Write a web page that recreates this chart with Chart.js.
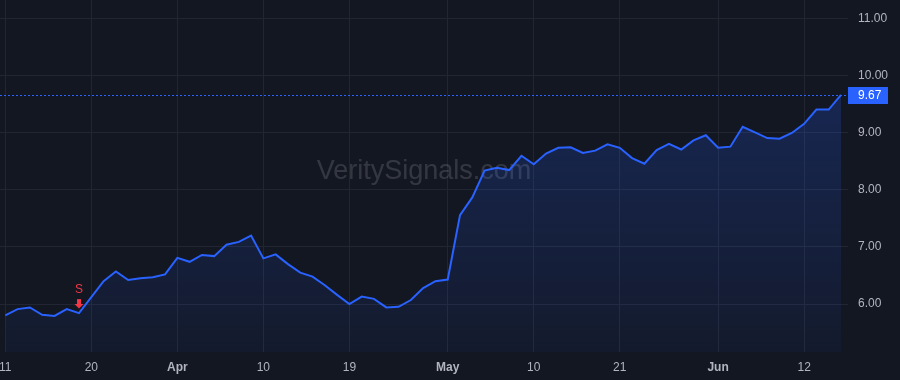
<!DOCTYPE html>
<html>
<head>
<meta charset="utf-8">
<script src="https://cdn.jsdelivr.net/npm/chart.js@4"></script>
<style>
  html, body { margin: 0; padding: 0; background: #131722; }
  #wrap { width: 900px; height: 380px; position: relative; }
</style>
</head>
<body>
<div id="wrap"><canvas id="priceChart" width="900" height="380"></canvas></div>
<script>
// trading days, Mar 11 - Jun 17 2024
const dates = [
  '2024-03-11','2024-03-12','2024-03-13','2024-03-14','2024-03-15','2024-03-18','2024-03-19','2024-03-20',
  '2024-03-21','2024-03-22','2024-03-25','2024-03-26','2024-03-27','2024-03-28',
  '2024-04-01','2024-04-02','2024-04-03','2024-04-04','2024-04-05','2024-04-08','2024-04-09','2024-04-10',
  '2024-04-11','2024-04-12','2024-04-15','2024-04-16','2024-04-17','2024-04-18','2024-04-19','2024-04-22',
  '2024-04-23','2024-04-24','2024-04-25','2024-04-26','2024-04-29','2024-04-30',
  '2024-05-01','2024-05-02','2024-05-03','2024-05-06','2024-05-07','2024-05-08','2024-05-09','2024-05-10',
  '2024-05-13','2024-05-14','2024-05-15','2024-05-16','2024-05-17','2024-05-20','2024-05-21','2024-05-22',
  '2024-05-23','2024-05-24','2024-05-28','2024-05-29','2024-05-30','2024-05-31',
  '2024-06-03','2024-06-04','2024-06-05','2024-06-06','2024-06-07','2024-06-10','2024-06-11','2024-06-12',
  '2024-06-13','2024-06-14','2024-06-17'
];

const closes = [
  5.80, 5.91, 5.94, 5.81, 5.79, 5.91, 5.84, 6.12, 6.40, 6.57, 6.42, 6.45, 6.47, 6.52,
  6.81, 6.74, 6.86, 6.84, 7.04, 7.09, 7.20, 6.80, 6.87, 6.70, 6.55, 6.48, 6.33, 6.16,
  6.00, 6.13, 6.09, 5.94, 5.95, 6.07, 6.28, 6.40,
  6.43, 7.56, 7.87, 8.34, 8.39, 8.35, 8.60, 8.45, 8.64, 8.74, 8.75, 8.65, 8.69, 8.80,
  8.74, 8.56, 8.46, 8.70, 8.81, 8.71, 8.87, 8.96,
  8.74, 8.76, 9.11, 9.01, 8.91, 8.90, 9.00, 9.16, 9.41, 9.41, 9.67
];

const tickDates = ['2024-03-11','2024-03-20','2024-04-01','2024-04-10','2024-04-19','2024-05-01','2024-05-10','2024-05-21','2024-06-03','2024-06-12'];
const tickLabels = ['11', '20', 'Apr', '10', '19', 'May', '10', '21', 'Jun', '12'];
const monthLabels = ['Apr', 'May', 'Jun'];

const yTicks = [6, 7, 8, 9, 10, 11];

const signalDates = ['2024-03-19'];
const signalText = 'S';

const watermark = 'VeritySignals.com';

const BLUE = '#2962ff';
const GRID = '#222633';
const TEXT = '#b2b5be';
const FONT = "'Liberation Sans', Arial, sans-serif";

const points = closes.map((v, i) => ({ x: i, y: v }));
const tickIdx = tickDates.map(d => dates.indexOf(d));
const lastValue = closes[closes.length - 1];

function noPadding(scale) {
  scale.paddingTop = 0;
  scale.paddingBottom = 0;
  scale.paddingLeft = 0;
  scale.paddingRight = 0;
}

// watermark + signal arrow + last price line
const overlay = {
  id: 'overlay',
  beforeDatasetsDraw(chart) {
    const { ctx, chartArea } = chart;
    ctx.save();
    ctx.font = '27px ' + FONT;
    ctx.fillStyle = 'rgba(255,255,255,0.14)';
    ctx.textAlign = 'center';
    ctx.textBaseline = 'middle';
    ctx.fillText(watermark, (chartArea.left + chartArea.right) / 2, 172);
    ctx.restore();
  },
  afterDatasetsDraw(chart) {
    const { ctx, chartArea, scales } = chart;
    const xs = scales.x, ys = scales.y;

    // dotted last price line (2px on / 2px off)
    const py = Math.round(ys.getPixelForValue(lastValue));
    ctx.save();
    ctx.fillStyle = BLUE;
    for (let x = chartArea.left; x < chartArea.right; x += 4) {
      ctx.fillRect(x, py, 2, 1);
    }

    // price label on the axis
    ctx.fillRect(chartArea.right, py - 8, 40, 17);
    ctx.fillStyle = '#ffffff';
    ctx.font = '12px ' + FONT;
    ctx.textAlign = 'left';
    ctx.textBaseline = 'middle';
    ctx.fillText(lastValue.toFixed(2), chartArea.right + 10, py + 1);

    // sell signal markers
    signalDates.forEach(d => {
      const i = dates.indexOf(d);
      const x = xs.getPixelForValue(i);
      const y = ys.getPixelForValue(closes[i]);
      ctx.fillStyle = '#f23645';
      ctx.fillRect(x - 2, y - 14, 4, 6);
      ctx.beginPath();
      ctx.moveTo(x - 4.5, y - 9);
      ctx.lineTo(x + 4.5, y - 9);
      ctx.lineTo(x, y - 4.5);
      ctx.closePath();
      ctx.fill();
      ctx.font = '12px ' + FONT;
      ctx.textAlign = 'center';
      ctx.textBaseline = 'middle';
      ctx.fillText(signalText, x, y - 23);
    });
    ctx.restore();
  }
};

const canvas = document.getElementById('priceChart');
const c2d = canvas.getContext('2d');

new Chart(c2d, {
  type: 'line',
  data: {
    datasets: [{
      data: points,
      borderColor: BLUE,
      borderWidth: 2,
      pointRadius: 0,
      tension: 0,
      fill: 'start',
      backgroundColor: (context) => {
        const area = context.chart.chartArea;
        if (!area) return 'rgba(41,98,255,0.12)';
        const g = context.chart.ctx.createLinearGradient(0, area.top, 0, area.bottom);
        g.addColorStop(0, 'rgba(41,98,255,0.28)');
        g.addColorStop(1, 'rgba(41,98,255,0.05)');
        return g;
      }
    }]
  },
  options: {
    responsive: false,
    animation: false,
    layout: { padding: 0, autoPadding: false },
    plugins: {
      legend: { display: false },
      tooltip: { enabled: false }
    },
    scales: {
      x: {
        type: 'linear',
        min: -0.43,
        max: 68.57,
        border: { display: false },
        grid: { color: GRID, drawTicks: false },
        afterBuildTicks: (scale) => { scale.ticks = tickIdx.map(v => ({ value: v })); },
        afterFit: (scale) => { scale.height = 28; noPadding(scale); },
        ticks: {
          autoSkip: false,
          maxRotation: 0,
          padding: 8,
          color: TEXT,
          font: (c) => ({
            family: FONT,
            size: 12,
            weight: monthLabels.includes(tickLabels[c.index]) ? 'bold' : 'normal'
          }),
          callback: (v, i) => tickLabels[i]
        }
      },
      y: {
        position: 'right',
        min: 5.158,
        max: 11.333,
        border: { display: false },
        grid: { color: GRID, drawTicks: false },
        afterBuildTicks: (scale) => { scale.ticks = yTicks.map(v => ({ value: v })); },
        afterFit: (scale) => { scale.width = 52; noPadding(scale); },
        ticks: {
          padding: 10,
          color: TEXT,
          font: { family: FONT, size: 12 },
          callback: (v) => Number(v).toFixed(2)
        }
      }
    }
  },
  plugins: [overlay]
});
</script>
</body>
</html>
